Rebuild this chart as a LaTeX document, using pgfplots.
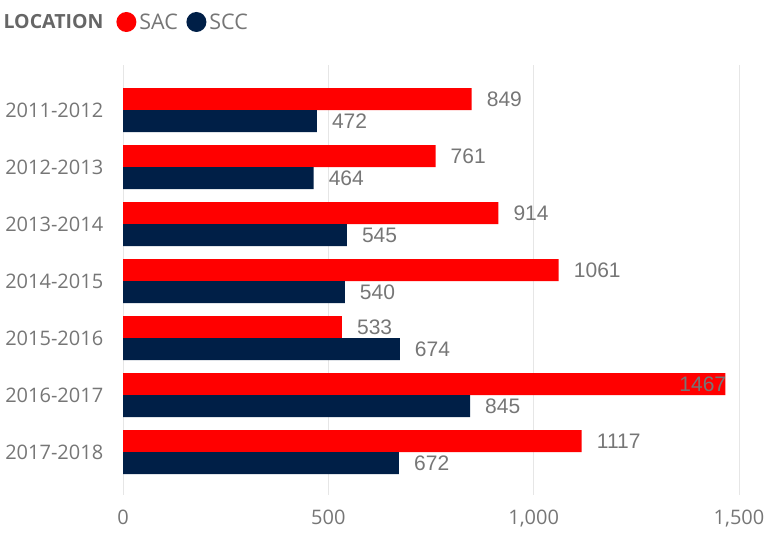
\documentclass[border=0pt]{standalone}
\usepackage{fontspec}
\setmainfont{Open Sans}
\newfontfamily\labelfont{Liberation Sans}
\usepackage{pgfplots}
\pgfplotsset{compat=1.18}
\definecolor{sac}{RGB}{255,0,0}
\definecolor{scc}{RGB}{0,31,71}
\definecolor{txt}{RGB}{118,118,118}
\definecolor{gridc}{RGB}{230,230,230}

\begin{document}
\begin{tikzpicture}
\path[use as bounding box] (0,0) rectangle (768pt,533pt);
\begin{axis}[
  at={(123pt,38pt)}, anchor=south west,
  scale only axis, width=616pt, height=430pt,
  xbar, bar width=22pt,
  xmin=0, xmax=1500, ymin=-0.75, ymax=6.79,
  axis line style={draw=none},
  tick style={draw=none},
  ytick={0,...,6},
  yticklabels={2017-2018,2016-2017,2015-2016,2014-2015,2013-2014,2012-2013,2011-2012},
  xtick={0,500,1000,1500},
  xmajorgrids, grid style={gridc, line width=1pt},
  ticklabel style={font=\fontsize{20}{24}\selectfont, text=txt},
  xticklabel style={yshift=-11pt},
  yticklabel style={xshift=-12pt},
  /pgf/number format/assume math mode=true,
  /pgf/number format/1000 sep={,},
  point meta=explicit symbolic,
  nodes near coords,
  nodes near coords style={font=\labelfont\fontsize{21}{24}\selectfont, text=txt,
    anchor=west, inner sep=0pt, xshift=15pt},
  legend columns=-1,
  legend style={at={(-0.199,1.1)}, anchor=west, draw=none, fill=none,
    inner sep=0pt, font=\fontsize{21.5}{24}\selectfont, text=txt,
    /tikz/every odd column/.append style={column sep=1pt},
    /tikz/every even column/.append style={column sep=6.5pt}},
  legend image code/.code={\fill[#1] (0pt,0pt) circle (10pt);},
]
\addlegendimage{empty legend}
\addplot[draw=none, fill=sac, bar shift=11pt] coordinates {
  (849,6) [849] (761,5) [761] (914,4) [914] (1061,3) [1061] (533,2) [533]
  (1467,1) [\llap{1467\hspace*{15pt}}] (1117,0) [1117]};
\addplot[draw=none, fill=scc, bar shift=-11pt] coordinates {
  (472,6) [472] (464,5) [464] (545,4) [545] (540,3) [540] (674,2) [674]
  (845,1) [845] (672,0) [672]};
\legend{{\fontsize{19.5}{22}\selectfont\bfseries\color[RGB]{102,102,102}LOCATION\hspace*{4.5pt}}, SAC, SCC}
\end{axis}
\end{tikzpicture}
\end{document}
